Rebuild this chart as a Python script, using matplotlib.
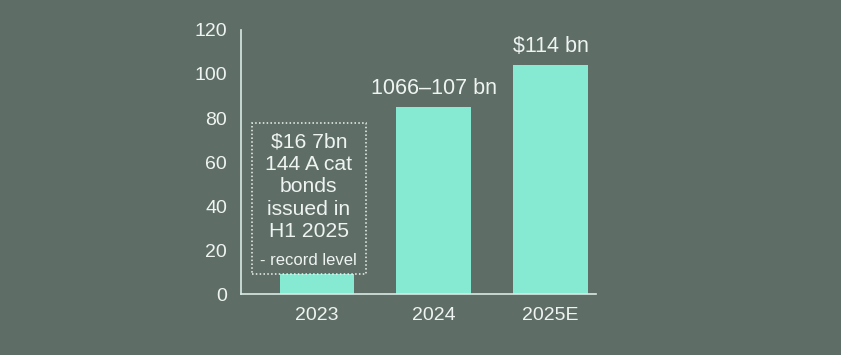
import matplotlib.pyplot as plt
from matplotlib.patches import Rectangle

# chart data
years = ["2023", "2024", "2025E"]
volumes = [9, 85, 104]
bar_labels = [None, "1066\u2013107 bn", "\\$114 bn"]
box_lines = ["\\$16 7bn", "144 A cat", "bonds", "issued in", "H1 2025"]
box_note = "- record level"
yticks = [0, 20, 40, 60, 80, 100, 120]

BG = "#5f6d67"
BAR = "#86ead3"
FG = "#eef4f1"

plt.rcParams["font.family"] = ["Liberation Sans", "DejaVu Sans"]

fig = plt.figure(figsize=(8.41, 3.55), dpi=100, facecolor=BG)
ax = fig.add_axes([0.2866, 0.1718, 0.4221, 0.7437])
ax.set_facecolor(BG)

x = range(len(years))
ax.bar(x, volumes, width=0.64, color=BAR)

ax.set_xlim(-0.65, 2.39)
ax.set_ylim(0, 120)
ax.set_xticks(list(x))
ax.set_xticklabels(years)
ax.set_yticks(yticks)
ax.tick_params(axis="both", length=0, colors=FG, labelsize=14)
ax.tick_params(axis="y", pad=10)
ax.tick_params(axis="x", pad=9, labelsize=14)

for s in ["top", "right"]:
    ax.spines[s].set_visible(False)
for s in ["left", "bottom"]:
    ax.spines[s].set_color("#d9e9e3")
    ax.spines[s].set_linewidth(1.2)

for i, lab in enumerate(bar_labels):
    if lab:
        ax.text(i, volumes[i] + 3.5, lab, ha="center", va="bottom",
                color=FG, fontsize=15.5)

# dotted callout box
ax.add_patch(Rectangle((-0.553, 9.1), 0.97, 68.6, fill=False,
                       edgecolor=FG, linestyle=(0, (1, 1.5)), linewidth=1.1,
                       zorder=3))
for k, line in enumerate(box_lines):
    ax.text(-0.07, 69.1 - 10.2 * k, line, ha="center", va="center",
            color=FG, fontsize=15.2)
ax.text(-0.07, 15.3, box_note, ha="center", va="center",
        color=FG, fontsize=12)

fig.savefig("out.png", dpi=100, facecolor=BG)
